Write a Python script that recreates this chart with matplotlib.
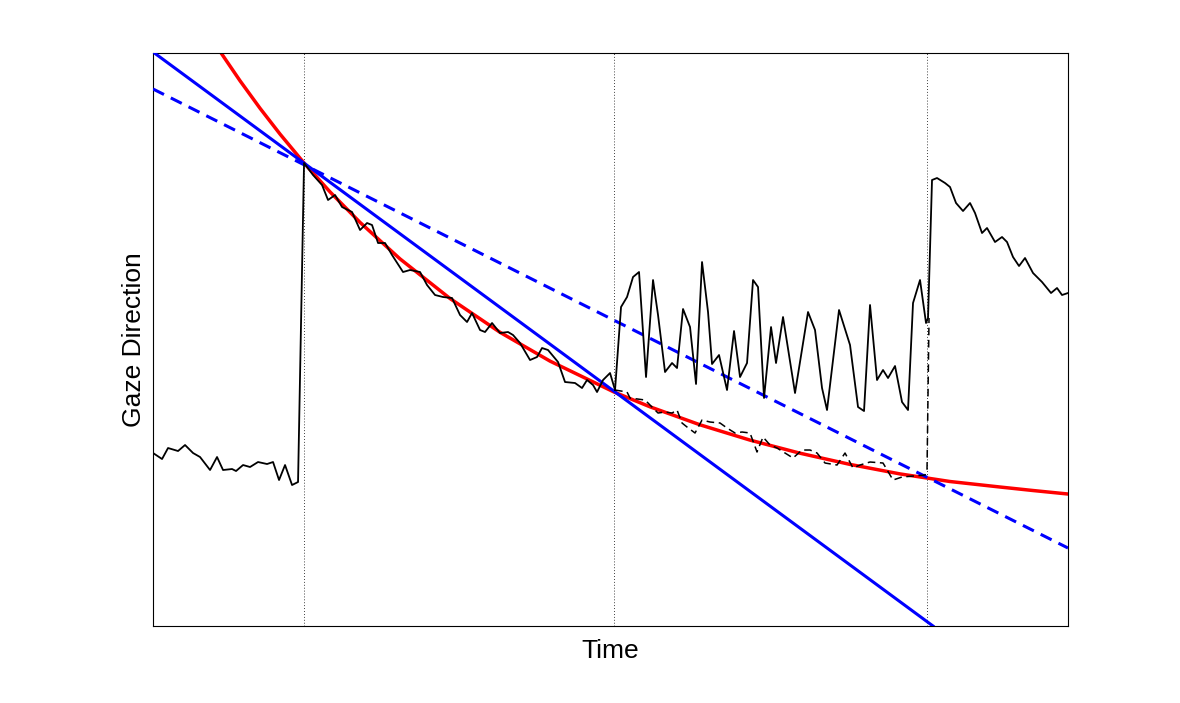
import matplotlib
matplotlib.use('Agg')
from matplotlib import pyplot as plt

plt.rcParams['font.family'] = ['Liberation Sans', 'DejaVu Sans']

# measured gaze trace (time, gaze), common part before the split
t_pre = [0, 9, 15, 25, 32, 40, 47, 57, 64, 70, 79, 83, 90, 97, 105, 114, 120, 126, 132, 139, 145,
         151, 160, 169, 175, 182, 189, 199, 207, 214, 219, 225, 232, 239, 250, 257, 267, 274, 282,
         290, 299, 307, 314, 319, 327, 332, 339, 347, 355, 360, 367, 377, 384, 389, 395, 405, 412,
         422, 429, 434, 440, 444, 450, 457, 462]
g_pre = [173, 167, 178, 175, 181, 173, 169, 156, 169, 156, 157, 155, 161, 159, 164, 162, 164, 146, 161, 141, 144,
         463, 451, 441, 426, 431, 419, 414, 396, 403, 401, 383, 383, 371, 354, 356, 354, 341, 331,
         329, 328, 311, 304, 313, 296, 294, 303, 293, 294, 291, 283, 266, 269, 278, 276, 264, 244,
         243, 238, 246, 241, 234, 246, 253, 236]

# solid trace after the split (noisy part and the rest)
t_solid = [462, 468, 474, 480, 486, 493, 500, 505, 512, 519, 524, 530, 537, 543, 549, 555, 559, 566,
           574, 581, 587, 594, 600, 605, 611, 618, 623, 630, 642, 655, 662, 669, 674, 686, 697, 705,
           711, 717, 724, 730, 735, 742, 749, 755, 760, 767, 773, 775, 779, 784, 792, 797, 803, 810,
           817, 822, 829, 834, 842, 849, 854, 860, 866, 872, 880, 889, 898, 904, 909, 915]
g_solid = [236, 319, 329, 349, 354, 249, 346, 311, 254, 263, 258, 317, 299, 242, 364, 314, 262, 271,
           236, 295, 249, 263, 346, 339, 228, 299, 263, 309, 233, 314, 296, 238, 216, 316, 281, 219,
           215, 321, 246, 256, 248, 260, 224, 216, 323, 346, 303, 308, 446, 448, 443, 439, 423, 415,
           423, 413, 393, 398, 384, 389, 384, 369, 360, 368, 353, 344, 333, 338, 331, 333]

# dashed trace after the split
t_dash = [462, 474, 477, 492, 497, 505, 512, 519, 524, 529, 534, 542, 549, 557, 567, 574, 582, 589,
          597, 604, 610, 617, 624, 640, 649, 657, 664, 672, 684, 692, 700, 707, 717, 730, 740, 749,
          772, 774, 776]
g_dash = [236, 234, 228, 226, 221, 213, 214, 213, 216, 203, 199, 193, 206, 204, 203, 198, 193, 194,
          193, 174, 189, 181, 178, 168, 176, 176, 173, 163, 161, 173, 158, 161, 164, 163, 146, 149,
          151, 156, 308]

# exponential fit (red)
t_fit = [65, 87, 107, 127, 151, 177, 207, 247, 297, 347, 397, 461, 497, 547, 597, 647, 697, 747,
         797, 847, 880, 915]
g_fit = [577.5, 545.2, 517.7, 491.9, 463, 434.1, 403.6, 367.1, 327.5, 293.7, 264.9, 234, 219.2,
         201.2, 185.9, 172.8, 161.6, 152.1, 144.5, 139, 135.5, 132]

# linear fits (blue)
t_lin1 = [0, 780]
g_lin1 = [574, 0]
t_lin2 = [0, 915]
g_lin2 = [537, 78]

events = [151, 461, 774]

fig = plt.figure(figsize=(11.8, 7.03), dpi=100)
ax = fig.add_axes([0.1297, 0.1095, 0.7754, 0.8151])

for e in events:
    ax.axvline(e, color='black', linestyle=(0, (1, 2.5)), linewidth=0.6, zorder=1)

ax.plot(t_fit, g_fit, color='red', linewidth=2.5, zorder=2)
ax.plot(t_lin1, g_lin1, color='blue', linewidth=2.2, zorder=3)
ax.plot(t_lin2, g_lin2, color='blue', linewidth=2.2, linestyle=(0, (4, 2.5)), zorder=3)

ax.plot(t_pre, g_pre, color='black', linewidth=1.3, zorder=4)
ax.plot(t_solid, g_solid, color='black', linewidth=1.3, zorder=4)
ax.plot(t_dash, g_dash, color='black', linewidth=1.1, linestyle=(0, (5, 3)), zorder=4)

ax.set_xlim(0, 915)
ax.set_ylim(0, 573)
ax.set_xticks([])
ax.set_yticks([])
for s in ax.spines.values():
    s.set_linewidth(0.8)

ax.set_xlabel('Time', fontsize=19, labelpad=9)
ax.set_ylabel('Gaze Direction', fontsize=19, labelpad=5)

plt.savefig('out.png', dpi=100)
